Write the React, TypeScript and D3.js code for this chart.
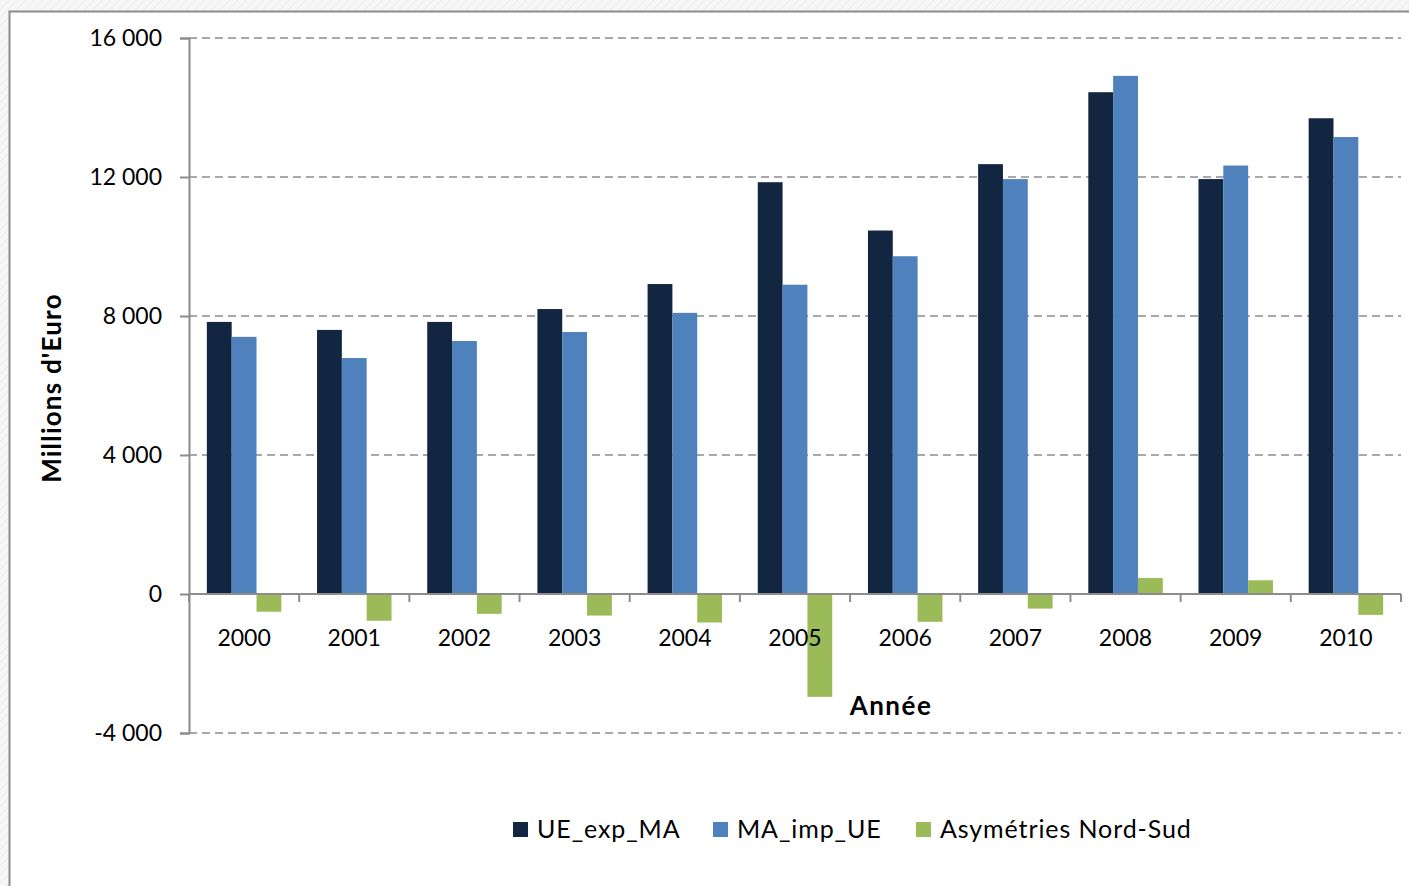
import * as d3 from "d3";
import React, { useEffect, useRef } from "react";

const years = ["2000", "2001", "2002", "2003", "2004", "2005", "2006", "2007", "2008", "2009", "2010"];
const seriesNames = ["UE_exp_MA", "MA_imp_UE", "Asymétries Nord-Sud"];
const ueExpMa = [7830, 7600, 7830, 8200, 8920, 11850, 10460, 12370, 14440, 11940, 13690];
const maImpUe = [7400, 6790, 7280, 7540, 8090, 8900, 9720, 11940, 14910, 12330, 13150];
const asymetries = [-510, -770, -570, -620, -820, -2960, -800, -420, 460, 395, -600];
const yTicks = [-4000, 0, 4000, 8000, 12000, 16000];
const colors = ["#132641", "#4f81bd", "#9bbb59"];

const W = 1409;
const H = 886;

const App = () => {
  const ref = useRef<SVGSVGElement>(null);

  useEffect(() => {
    const svg = d3.select(ref.current);
    svg.selectAll("*").remove();

    const font = "Lato, 'Open Sans', sans-serif";
    const left = 189, right = 1401, top = 38, bottom = 733;

    // hatched background around the chart frame
    const defs = svg.append("defs");
    const pat = defs.append("pattern")
      .attr("id", "hatch")
      .attr("width", 6).attr("height", 6)
      .attr("patternUnits", "userSpaceOnUse")
      .attr("patternTransform", "rotate(45)");
    pat.append("rect").attr("width", 6).attr("height", 6).attr("fill", "#f7f7f7");
    pat.append("line").attr("x1", 0).attr("y1", 0).attr("x2", 0).attr("y2", 6)
      .attr("stroke", "#ececec").attr("stroke-width", 2);
    svg.append("rect").attr("width", W).attr("height", H).attr("fill", "url(#hatch)");
    svg.append("rect")
      .attr("x", 9.5).attr("y", 11.5)
      .attr("width", W + 10).attr("height", H + 10)
      .attr("fill", "#fff").attr("stroke", "#8c8c8c").attr("stroke-width", 2);

    const x = d3.scaleBand().domain(years).range([left, right]).padding(0);
    const gap = x.bandwidth() * 0.162;
    const xs = d3.scaleBand().domain(seriesNames).range([gap, x.bandwidth() - gap]).padding(0);
    const y = d3.scaleLinear().domain([-4000, 16000]).range([bottom, top]);

    // gridlines
    svg.append("g")
      .selectAll("line")
      .data(yTicks.filter(t => t !== 0))
      .join("line")
      .attr("x1", left).attr("x2", right)
      .attr("y1", d => y(d)).attr("y2", d => y(d))
      .attr("stroke", "#8c8c8c").attr("stroke-width", 1.5)
      .attr("stroke-dasharray", "8,5");

    // bars
    const all = [ueExpMa, maImpUe, asymetries];
    all.forEach((vals, si) => {
      svg.append("g")
        .selectAll("rect")
        .data(vals)
        .join("rect")
        .attr("x", (d, i) => (x(years[i]) as number) + (xs(seriesNames[si]) as number))
        .attr("width", xs.bandwidth())
        .attr("y", d => y(Math.max(0, d)))
        .attr("height", d => Math.abs(y(d) - y(0)))
        .attr("fill", colors[si]);
    });

    // y axis
    const yAxis = svg.append("g")
      .attr("transform", `translate(${left},0)`)
      .call(d3.axisLeft(y).tickValues(yTicks).tickSize(9).tickPadding(18)
        .tickFormat(d => d3.format(",")(d as number).replace(",", " ").replace("−", "-")));
    yAxis.select(".domain").attr("stroke", "#8c8c8c").attr("stroke-width", 2);
    yAxis.selectAll(".tick line").attr("stroke", "#8c8c8c").attr("stroke-width", 2);
    yAxis.selectAll("text").attr("font-family", font).attr("font-size", 23).attr("fill", "#000");

    // x axis at zero
    const xAxis = svg.append("g").attr("transform", `translate(0,${y(0)})`);
    xAxis.append("line").attr("x1", left).attr("x2", right)
      .attr("stroke", "#8c8c8c").attr("stroke-width", 2);
    const bounds = years.map(yr => x(yr) as number).concat([right]);
    xAxis.selectAll("line.tk")
      .data(bounds)
      .join("line")
      .attr("class", "tk")
      .attr("x1", d => d).attr("x2", d => d)
      .attr("y1", 0).attr("y2", 8)
      .attr("stroke", "#8c8c8c").attr("stroke-width", 2);
    xAxis.selectAll("text")
      .data(years)
      .join("text")
      .attr("x", d => (x(d) as number) + x.bandwidth() / 2)
      .attr("y", 52)
      .attr("text-anchor", "middle")
      .attr("font-family", font).attr("font-size", 23)
      .text(d => d);

    // axis titles
    svg.append("text")
      .attr("transform", `translate(61,388) rotate(-90)`)
      .attr("text-anchor", "middle")
      .attr("font-family", font).attr("font-size", 26).attr("font-weight", "bold")
      .attr("letter-spacing", 1.2)
      .text("Millions d'Euro");
    svg.append("text")
      .attr("x", 891).attr("y", 715)
      .attr("text-anchor", "middle")
      .attr("font-family", font).attr("font-size", 26).attr("font-weight", "bold")
      .attr("letter-spacing", 1.5)
      .text("Année");

    // legend
    const legendX = [513, 713, 916];
    const lg = svg.append("g")
      .selectAll("g")
      .data(seriesNames)
      .join("g")
      .attr("transform", (d, i) => `translate(${legendX[i]},822)`);
    lg.append("rect").attr("width", 15).attr("height", 15).attr("fill", (d, i) => colors[i]);
    lg.append("text")
      .attr("x", 24).attr("y", 16)
      .attr("font-family", font).attr("font-size", 25)
      .attr("letter-spacing", 0.9)
      .text(d => d);
  }, []);

  return (
    <svg ref={ref} width={W} height={H} style={{ position: "absolute", left: 0, top: 0 }} />
  );
};

export default App;
